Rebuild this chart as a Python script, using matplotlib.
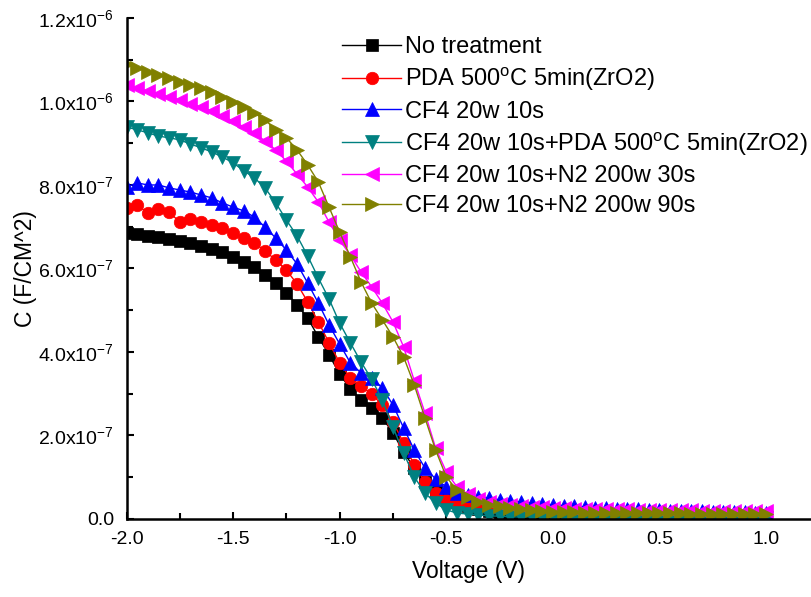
import numpy as np
import matplotlib
matplotlib.use("Agg")
import matplotlib.pyplot as plt
from matplotlib.ticker import MultipleLocator

plt.rcParams['font.family'] = ['Liberation Sans', 'DejaVu Sans']
plt.rcParams['mathtext.fontset'] = 'custom'
plt.rcParams['mathtext.rm'] = 'Liberation Sans'
plt.rcParams['mathtext.it'] = 'Liberation Sans:italic'
plt.rcParams['mathtext.bf'] = 'Liberation Sans:bold'
plt.rcParams['mathtext.default'] = 'regular'

# Gate voltage sweep (V), 0.05 V steps
voltage = np.round(np.arange(-2.0, 1.0001, 0.05), 2)

# Capacitance in units of 1e-7 F/cm^2
no_treatment = [
    6.85, 6.83, 6.78, 6.75, 6.71, 6.66, 6.61, 6.54, 6.47, 6.40,
    6.28, 6.16, 6.04, 5.84, 5.65, 5.41, 5.13, 4.81, 4.36, 3.93,
    3.47, 3.11, 2.85, 2.66, 2.42, 2.06, 1.60, 1.22, 0.89, 0.67,
    0.53, 0.41, 0.31, 0.24, 0.19, 0.14, 0.12, 0.10, 0.09, 0.08,
    0.07, 0.07, 0.07, 0.07, 0.06, 0.06, 0.06, 0.06, 0.06, 0.06,
    0.06, 0.05, 0.05, 0.05, 0.05, 0.05, 0.05, 0.05, 0.05, 0.05, 0.05]

pda_500 = [
    7.45, 7.52, 7.33, 7.43, 7.35, 7.11, 7.19, 7.11, 7.04, 6.97,
    6.85, 6.73, 6.61, 6.42, 6.20, 5.96, 5.63, 5.20, 4.72, 4.22,
    3.74, 3.38, 3.19, 2.99, 2.73, 2.32, 1.82, 1.29, 0.89, 0.62,
    0.46, 0.38, 0.34, 0.29, 0.26, 0.24, 0.22, 0.20, 0.19, 0.18,
    0.17, 0.16, 0.15, 0.15, 0.14, 0.14, 0.13, 0.13, 0.12, 0.12,
    0.11, 0.11, 0.11, 0.10, 0.10, 0.10, 0.09, 0.09, 0.09, 0.08, 0.08]

cf4_10s = [
    7.95, 8.05, 8.00, 8.00, 7.93, 7.88, 7.83, 7.76, 7.69, 7.57,
    7.47, 7.38, 7.23, 6.99, 6.73, 6.44, 6.11, 5.65, 5.17, 4.65,
    4.19, 3.74, 3.50, 3.38, 3.14, 2.73, 2.18, 1.65, 1.22, 0.96,
    0.77, 0.62, 0.57, 0.53, 0.50, 0.46, 0.43, 0.41, 0.38, 0.36,
    0.34, 0.32, 0.30, 0.29, 0.27, 0.26, 0.25, 0.24, 0.23, 0.22,
    0.21, 0.20, 0.19, 0.19, 0.18, 0.17, 0.17, 0.16, 0.16, 0.15, 0.15]

cf4_pda = [
    9.39, 9.32, 9.25, 9.17, 9.13, 9.08, 8.98, 8.89, 8.79, 8.67,
    8.53, 8.34, 8.17, 7.93, 7.57, 7.16, 6.78, 6.30, 5.77, 5.27,
    4.69, 4.22, 3.76, 3.35, 2.85, 2.20, 1.58, 1.01, 0.62, 0.38,
    0.22, 0.14, 0.12, 0.10, 0.07, 0.07, 0.05, 0.05, 0.05, 0.05,
    0.04, 0.04, 0.04, 0.04, 0.04, 0.04, 0.04, 0.04, 0.04, 0.04,
    0.03, 0.03, 0.03, 0.03, 0.03, 0.03, 0.03, 0.03, 0.03, 0.03, 0.03]

cf4_n2_30s = [
    10.40, 10.32, 10.25, 10.18, 10.11, 10.04, 9.94, 9.87, 9.77, 9.65,
    9.53, 9.39, 9.25, 9.05, 8.84, 8.57, 8.26, 7.95, 7.59, 7.11,
    6.68, 6.32, 5.92, 5.56, 5.17, 4.72, 4.12, 3.31, 2.54, 1.70,
    1.13, 0.77, 0.60, 0.48, 0.41, 0.36, 0.34, 0.31, 0.29, 0.28,
    0.26, 0.26, 0.25, 0.25, 0.24, 0.24, 0.23, 0.23, 0.22, 0.22,
    0.22, 0.21, 0.21, 0.21, 0.20, 0.20, 0.20, 0.20, 0.19, 0.19, 0.19]

cf4_n2_90s = [
    10.90, 10.80, 10.71, 10.63, 10.56, 10.47, 10.40, 10.32, 10.23, 10.11,
    9.99, 9.87, 9.72, 9.56, 9.32, 9.13, 8.84, 8.48, 8.07, 7.47,
    6.87, 6.28, 5.68, 5.17, 4.77, 4.36, 3.88, 3.21, 2.42, 1.65,
    1.01, 0.69, 0.53, 0.41, 0.34, 0.31, 0.26, 0.24, 0.22, 0.19,
    0.17, 0.16, 0.16, 0.15, 0.15, 0.15, 0.15, 0.14, 0.14, 0.14,
    0.14, 0.14, 0.14, 0.13, 0.13, 0.13, 0.13, 0.13, 0.13, 0.13, 0.13]

series_labels = [
    'No treatment',
    'PDA 500$^{o}$C 5min(ZrO2)',
    'CF4 20w 10s',
    'CF4 20w 10s+PDA 500$^{o}$C 5min(ZrO2)',
    'CF4 20w 10s+N2 200w 30s',
    'CF4 20w 10s+N2 200w 90s',
]

x_ticks = [-2.0, -1.5, -1.0, -0.5, 0.0, 0.5, 1.0]
x_tick_labels = ['-2.0', '-1.5', '-1.0', '-0.5', '0.0', '0.5', '1.0']
y_ticks = [0.0, 2.0e-7, 4.0e-7, 6.0e-7, 8.0e-7, 1.0e-6, 1.2e-6]
y_tick_labels = ['0.0', '2.0x10$^{-7}$', '4.0x10$^{-7}$', '6.0x10$^{-7}$',
                 '8.0x10$^{-7}$', '1.0x10$^{-6}$', '1.2x10$^{-6}$']

series = [no_treatment, pda_500, cf4_10s, cf4_pda, cf4_n2_30s, cf4_n2_90s]
colors = ['#000000', '#FF0000', '#0000FF', '#008080', '#FF00FF', '#808000']
markers = ['s', 'o', '^', 'v', '<', '>']
msizes = [8.0, 9.0, 9.8, 9.8, 9.8, 9.8]

fig = plt.figure(figsize=(8.11, 5.97), dpi=100)
ax = fig.add_axes([0.156, 0.1307, 0.844, 0.8392])

for vals, c, m, ms, lab in zip(series, colors, markers, msizes, series_labels):
    ax.plot(voltage, np.array(vals) * 1e-7, color=c, marker=m, markersize=ms,
            markeredgecolor=c, markeredgewidth=0.5, linewidth=1.0, label=lab)

ax.set_xlim(-2.0, 1.211)
ax.set_ylim(0, 1.2e-6)

ax.spines['top'].set_visible(False)
ax.spines['right'].set_visible(False)
ax.spines['left'].set_linewidth(1.8)
ax.spines['bottom'].set_linewidth(1.8)

ax.set_xticks(x_ticks, x_tick_labels)
ax.set_yticks(y_ticks, y_tick_labels)
ax.xaxis.set_minor_locator(MultipleLocator(0.25))
ax.yaxis.set_minor_locator(MultipleLocator(1e-7))
ax.tick_params(which='major', direction='in', length=5, width=1.5,
               labelsize=14, pad=9)
ax.tick_params(which='minor', direction='in', length=4, width=1.5)

ax.set_xlabel('Voltage (V)', fontsize=16.5, labelpad=8)
ax.set_ylabel('C (F/CM^2)', fontsize=16.5, labelpad=1)

ax.legend(loc='upper left', bbox_to_anchor=(0.422, 0.94),
          bbox_transform=fig.transFigure, frameon=False, fontsize=17,
          handlelength=2.5, handletextpad=0.15, labelspacing=0.33,
          borderpad=0, borderaxespad=0)

fig.savefig('out.png', dpi=100)
